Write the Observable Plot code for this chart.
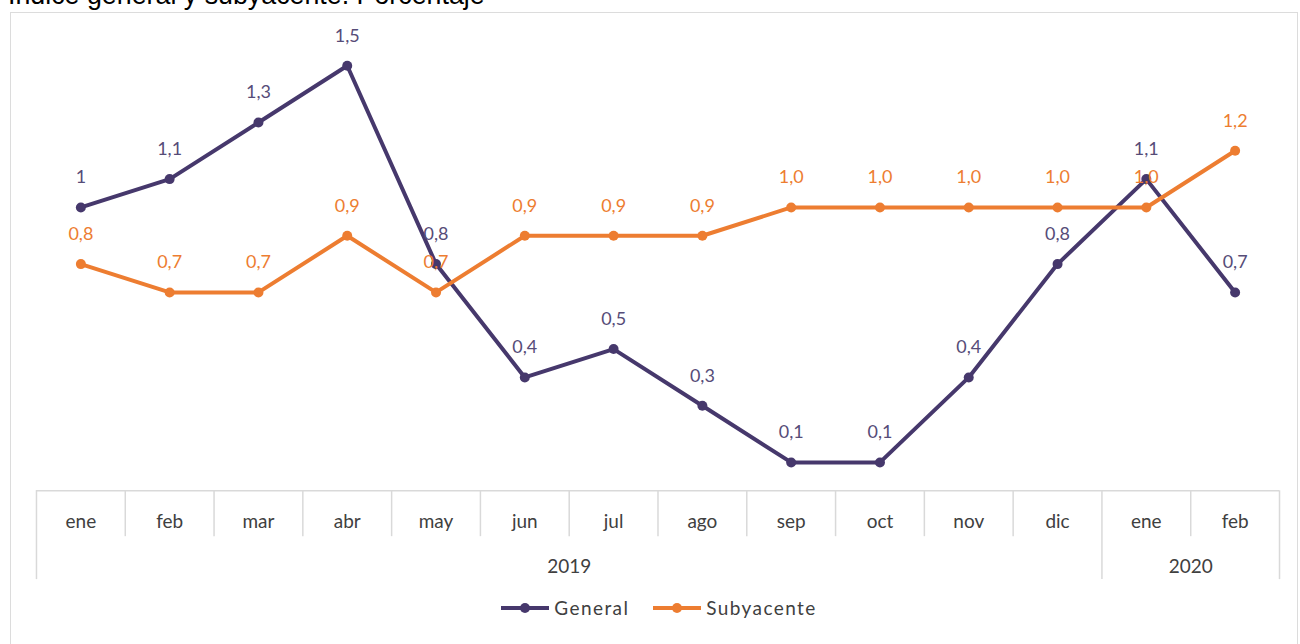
<!DOCTYPE html>
<html>
<head>
<meta charset="utf-8">
<script src="https://cdn.jsdelivr.net/npm/d3@7"></script>
<script src="https://cdn.jsdelivr.net/npm/@observablehq/plot@0.6"></script>
<style>
  html, body { margin: 0; padding: 0; width: 1300px; height: 644px; overflow: hidden; background: #fff; }
  #title { position: absolute; left: 8px; top: -20px; font: 26.8px "Liberation Sans", Arial, sans-serif; color: #000; white-space: nowrap; }
  #frame { position: absolute; left: 10px; top: 12px; width: 1288px; height: 640px; border: 1px solid #dcdcdc; box-sizing: border-box; }
  #chart { position: absolute; left: 0; top: 0; }
  #legend { position: absolute; top: 583px; left: 4px; width: 1288px; display: flex; justify-content: center; gap: 24px; font: 19px Lato, sans-serif; letter-spacing: 1.4px; color: #404040; }
  .item { display: flex; align-items: center; gap: 5px; }
</style>
</head>
<body>
<div id="title">Índice general y subyacente. Porcentaje</div>
<div id="frame">
  <div id="chart"></div>
  <div id="legend"></div>
</div>
<script>
const months = ["ene","feb","mar","abr","may","jun","jul","ago","sep","oct","nov","dic","ene","feb"];
const years = ["2019", "2020"];
const yearSpans = [[0, 11], [12, 13]];
const general = [1.0, 1.1, 1.3, 1.5, 0.8, 0.4, 0.5, 0.3, 0.1, 0.1, 0.4, 0.8, 1.1, 0.7];
const generalLabels = ["1","1,1","1,3","1,5","0,8","0,4","0,5","0,3","0,1","0,1","0,4","0,8","1,1","0,7"];
const subyacente = [0.8, 0.7, 0.7, 0.9, 0.7, 0.9, 0.9, 0.9, 1.0, 1.0, 1.0, 1.0, 1.0, 1.2];
const subyacenteLabels = ["0,8","0,7","0,7","0,9","0,7","0,9","0,9","0,9","1,0","1,0","1,0","1,0","1,0","1,2"];
const seriesNames = ["General", "Subyacente"];
const colors = ["#46386c", "#ed7d31"];
const labelColors = ["#564c78", "#ed7d31"];

const gen = general.map((v, i) => ({i, v, label: generalLabels[i]}));
const sub = subyacente.map((v, i) => ({i, v, label: subyacenteLabels[i]}));
const monthData = months.map((m, i) => ({i, m}));
const majorSeps = [-0.5, ...yearSpans.map(s => s[1] + 0.5)];
const minorSeps = d3.range(0, months.length - 1).map(i => i + 0.5).filter(x => !majorSeps.includes(x));
const yearData = years.map((y, k) => ({y, x: (yearSpans[k][0] + yearSpans[k][1]) / 2}));

const font = "Lato, sans-serif";
const chart = Plot.plot({
  width: 1288,
  height: 585,
  marginLeft: 25,
  marginRight: 18,
  marginTop: 24,
  marginBottom: 107,
  x: {domain: [-0.5, months.length - 0.5], axis: null},
  y: {domain: [0, 1.6], axis: null},
  style: {fontFamily: font, background: "transparent"},
  marks: [
    Plot.ruleY([0], {stroke: "#d9d9d9", strokeWidth: 1.5}),
    Plot.ruleX(minorSeps, {y1: 0, y2: 0, insetBottom: -46, stroke: "#d9d9d9", strokeWidth: 1.5}),
    Plot.ruleX(majorSeps, {y1: 0, y2: 0, insetBottom: -89, stroke: "#d9d9d9", strokeWidth: 1.5}),
    Plot.text(monthData, {x: "i", text: "m", frameAnchor: "bottom", dy: 37, fontSize: 19, fill: "#404040"}),
    Plot.text(yearData, {x: "x", text: "y", frameAnchor: "bottom", dy: 82, fontSize: 19, fill: "#404040"}),
    Plot.line(gen, {x: "i", y: "v", stroke: colors[0], strokeWidth: 4}),
    Plot.dot(gen, {x: "i", y: "v", r: 5, fill: colors[0]}),
    Plot.line(sub, {x: "i", y: "v", stroke: colors[1], strokeWidth: 4}),
    Plot.dot(sub, {x: "i", y: "v", r: 5, fill: colors[1]}),
    Plot.text(gen, {x: "i", y: "v", text: "label", dy: -30, fontSize: 18, fill: labelColors[0]}),
    Plot.text(sub, {x: "i", y: "v", text: "label", dy: -30, fontSize: 18, fill: labelColors[1]})
  ]
});
document.getElementById("chart").appendChild(chart);

const legend = document.getElementById("legend");
seriesNames.forEach((name, k) => {
  const item = document.createElement("div");
  item.className = "item";
  item.innerHTML = `<svg width="48" height="14"><line x1="0" x2="48" y1="7" y2="7" stroke="${colors[k]}" stroke-width="4"/><circle cx="24" cy="7" r="5" fill="${colors[k]}"/></svg><span>${name}</span>`;
  legend.appendChild(item);
});
</script>
</body>
</html>
